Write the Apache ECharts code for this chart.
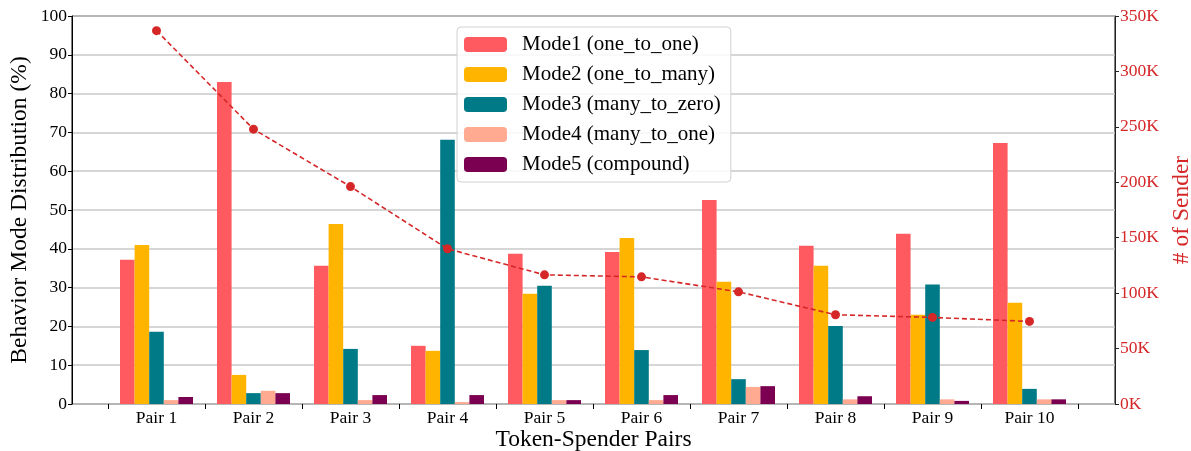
<!DOCTYPE html>
<html>
<head>
<meta charset="utf-8">
<script src="https://cdn.jsdelivr.net/npm/echarts@6/dist/echarts.min.js"></script>
<style>
  html, body { margin: 0; padding: 0; background: #fff; }
  #chart { width: 1191px; height: 451px; }
</style>
</head>
<body>
<div id="chart"></div>
<script>
const pairs = ['Pair 1', 'Pair 2', 'Pair 3', 'Pair 4', 'Pair 5', 'Pair 6', 'Pair 7', 'Pair 8', 'Pair 9', 'Pair 10'];
const modeNames = ['Mode1 (one_to_one)', 'Mode2 (one_to_many)', 'Mode3 (many_to_zero)', 'Mode4 (many_to_one)', 'Mode5 (compound)'];
const mode1 = [37.2, 83.0, 35.6, 15.0, 38.7, 39.2, 52.6, 40.8, 43.9, 67.3];
const mode2 = [41.0, 7.5, 46.4, 13.7, 28.4, 42.8, 31.5, 35.6, 23.0, 26.1];
const mode3 = [18.6, 2.8, 14.2, 68.1, 30.5, 13.9, 6.4, 20.1, 30.8, 3.9];
const mode4 = [1.0, 3.4, 1.0, 0.5, 1.0, 1.0, 4.4, 1.2, 1.2, 1.2];
const mode5 = [1.8, 2.8, 2.3, 2.3, 1.0, 2.3, 4.6, 2.0, 0.8, 1.2];
const senders = [336800, 247900, 196100, 140000, 116500, 114700, 101200, 80500, 78100, 74500];
const pctTicks = { min: 0, max: 100, interval: 10 };
const senderTicks = { min: 0, max: 350000, interval: 50000 };

const modeColors = ['#FF5A5F', '#FFB400', '#007A87', '#FFAA91', '#7B0051'];
const lineColor = '#d62728';
const font = 'Liberation Serif';

const chart = echarts.init(document.getElementById('chart'));

const barSeries = [mode1, mode2, mode3, mode4, mode5].map((vals, i) => ({
  name: modeNames[i],
  type: 'bar',
  xAxisIndex: 1,
  yAxisIndex: 2,
  data: vals,
  barWidth: 14.6,
  barGap: '0%',
  itemStyle: { color: modeColors[i] },
  z: 3,
}));

const option = {
  animation: false,
  backgroundColor: '#fff',
  textStyle: { fontFamily: font },
  grid: [
    // frame grid (axes, gridlines)
    { left: 72, right: 76, top: 16, bottom: 47, outerBoundsMode: 'none', containLabel: false,
      show: true, borderColor: '#000', borderWidth: 1, backgroundColor: 'transparent' },
    // data grid (bar groups)
    { left: 108, right: 113, top: 16, bottom: 47, outerBoundsMode: 'none', containLabel: false },
  ],
  legend: {
    data: modeNames,
    orient: 'vertical',
    left: 457,
    top: 27,
    itemWidth: 43,
    itemHeight: 15,
    itemGap: 7,
    padding: [6, 10, 6, 7],
    backgroundColor: 'rgba(255,255,255,0.85)',
    borderColor: '#d0d0d0',
    borderWidth: 1,
    borderRadius: 4,
    textStyle: { fontFamily: font, fontSize: 21, color: '#000', padding: [0, 0, 0, 10], lineHeight: 23 },
    z: 10,
  },
  xAxis: [
    {
      type: 'value', gridIndex: 0, min: 0, max: 1,
      axisLine: { show: false }, axisTick: { show: false },
      axisLabel: { show: false }, splitLine: { show: false },
      name: 'Token-Spender Pairs', nameLocation: 'middle', nameGap: 24,
      nameTextStyle: { fontFamily: font, fontSize: 23.5, color: '#000' },
    },
    {
      type: 'category', gridIndex: 1, data: pairs,
      axisLine: { show: false },
      axisTick: { show: true, length: 5, lineStyle: { color: '#000' } },
      axisLabel: { fontFamily: font, fontSize: 17.5, color: '#000', margin: 5 },
    },
  ],
  yAxis: [
    {
      type: 'value', gridIndex: 0, position: 'left', ...pctTicks,
      name: 'Behavior Mode Distribution (%)', nameLocation: 'middle', nameGap: 40,
      nameMoveOverlap: false,
      nameTextStyle: { fontFamily: font, fontSize: 23.5, color: '#000' },
      axisLine: { show: true, lineStyle: { color: '#000' } },
      axisTick: { show: true, length: 4, lineStyle: { color: '#000' } },
      axisLabel: { fontFamily: font, fontSize: 17.5, color: '#000', margin: 5 },
      splitLine: { show: true, lineStyle: { color: '#c8c8c8', width: 1.5 } },
    },
    {
      type: 'value', gridIndex: 0, position: 'right', ...senderTicks,
      name: '# of Sender', nameLocation: 'middle', nameGap: 52,
      nameTextStyle: { fontFamily: font, fontSize: 23.5, color: lineColor },
      axisLine: { show: true, lineStyle: { color: '#222' } },
      axisTick: { show: true, length: 4, lineStyle: { color: '#222' } },
      axisLabel: { fontFamily: font, fontSize: 17.5, color: lineColor, margin: 5, formatter: v => (v / 1000) + 'K' },
      splitLine: { show: false },
    },
    { type: 'value', gridIndex: 1, ...pctTicks, show: false, splitLine: { show: false } },
    { type: 'value', gridIndex: 1, ...senderTicks, show: false, splitLine: { show: false } },
  ],
  series: [
    ...barSeries,
    {
      name: '# of Sender',
      type: 'line',
      xAxisIndex: 1,
      yAxisIndex: 3,
      data: senders,
      symbol: 'circle',
      symbolSize: 9,
      lineStyle: { color: lineColor, width: 1.6, type: [5, 3] },
      itemStyle: { color: lineColor },
      z: 5,
    },
  ],
};

chart.setOption(option);
</script>
</body>
</html>
